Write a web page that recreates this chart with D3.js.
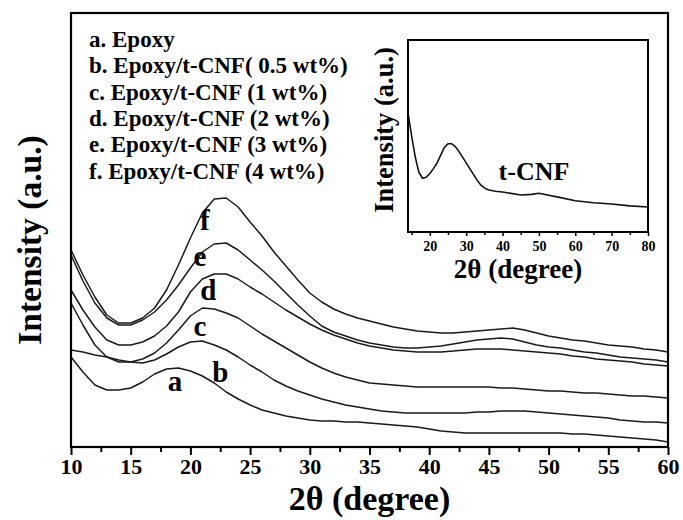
<!DOCTYPE html>
<html>
<head>
<meta charset="utf-8">
<script src="https://cdn.jsdelivr.net/npm/d3@7/dist/d3.min.js"></script>
<style>
  body { margin: 0; background: #fff; }
  text { font-family: "Liberation Serif", "Times New Roman", serif; font-weight: bold; fill: #000; }
</style>
</head>
<body>
<div id="chart"></div>
<script>

// 2theta grid of the main patterns (degree)
var angle = [10,11,12,13,14,15,16,17,18,19,20,21,22,23,24,25,26,27,28,29,30,
             31,32,33,34,35,36,37,38,39,40,41,42,43,44,45,46,47,48,49,50,
             51,52,53,54,55,56,57,58,59,60];

// intensities (a.u., curves already offset as in the figure)
var epoxy = [90,75,62,57,57,59,65,73,78,79,76,71,64,55,48,42,37,34,31,29,27,
             26,26,25,25,24,23,22,21,20,18,16,15,14,14,14,14,14,14,14,14,
             14,13,13,12,11,10,9,8,7,5];
var cnf05 = [97,95,92,90,87,85,84,87,93,100,105,106,102,97,90,82,75,67,61,56,52,
             48,45,42,40,38,36,35,34,34,34,34,34,34,35,35,36,36,36,35,34,
             33,32,31,30,29,27,26,25,25,24];
var cnf1  = [144,122,102,90,85,85,88,94,104,117,131,139,138,134,129,121,113,106,99,92,85,
             79,74,70,67,64,63,62,61,60,60,60,60,60,60,60,59,59,58,57,56,
             56,55,54,54,53,52,51,51,50,49];
var cnf2  = [157,137,120,107,102,102,105,111,121,135,155,168,173,173,168,160,153,145,137,130,123,
             117,112,108,104,101,99,97,96,95,95,95,96,97,98,98,98,97,96,95,94,
             93,91,90,88,87,86,85,83,82,81];
var cnf3  = [192,166,144,129,122,122,127,135,147,162,179,195,203,204,197,187,177,166,154,142,131,
             121,115,111,107,104,102,100,99,99,100,101,103,105,107,108,109,108,105,102,100,
             99,97,95,94,92,90,89,88,87,85];
var cnf4  = [197,172,150,132,124,124,129,139,157,182,209,234,248,249,240,225,211,195,181,167,154,
             145,138,133,129,126,123,120,118,116,115,114,114,115,116,117,118,119,117,114,111,
             109,107,106,104,102,101,100,98,97,95];

var legendText = ["a. Epoxy", "b. Epoxy/t-CNF( 0.5 wt%)", "c. Epoxy/t-CNF (1 wt%)",
                  "d. Epoxy/t-CNF (2 wt%)", "e. Epoxy/t-CNF (3 wt%)", "f. Epoxy/t-CNF (4 wt%)"];
var curveTag = ["a", "b", "c", "d", "e", "f"];
// where each letter sits (2theta, intensity)
var tagAngle = [18.7, 22.5, 20.8, 21.5, 20.8, 21.2];
var tagValue = [56, 65, 111, 147, 181, 217];

var xTicks = [10,15,20,25,30,35,40,45,50,55,60];
var xMinor = [12.5,17.5,22.5,27.5,32.5,37.5,42.5,47.5,52.5,57.5];

// inset : t-CNF alone
var cnfAngle = [14,15,16,17,18,19,20,21,22,23,24,25,26,27,28,29,30,31,32,33,34,35,36,
                38,40,45,48,50,52,55,60,65,70,75,80];
var cnfOnly  = [62,50,39,31,28,28.5,30.5,33,36,40,44,46,46,44.5,42,39,36,33,30,27,24.5,23,22,
                21.2,20.8,19.3,19.6,20.2,19.4,18.3,16.3,15.2,14.6,13.6,13];
var insetTicks = [20,30,40,50,60,70,80];
var insetMinor = [15,25,35,45,55,65,75];

var W = 683, H = 520;
var svg = d3.select("#chart").append("svg")
    .attr("width", W).attr("height", H);

// ---- main plot
var box = {left: 71, right: 668, top: 13, bottom: 447};

var x = d3.scaleLinear().domain([10, 60]).range([box.left, box.right]);
var y = d3.scaleLinear().domain([0, 434]).range([box.bottom, box.top]);

var line = d3.line()
    .x(function(d) { return x(d[0]); })
    .y(function(d) { return y(d[1]); });

var series = [epoxy, cnf05, cnf1, cnf2, cnf3, cnf4];

svg.append("g")
  .selectAll("path")
  .data(series)
  .enter().append("path")
    .attr("d", function(s) { return line(angle.map(function(a, i) { return [a, s[i]]; })); })
    .attr("fill", "none")
    .attr("stroke", "#1a1a1a")
    .attr("stroke-width", 1.5)
    .attr("stroke-linejoin", "round");

// letters next to the curves
svg.append("g")
  .selectAll("text")
  .data(curveTag)
  .enter().append("text")
    .attr("x", function(d, i) { return x(tagAngle[i]); })
    .attr("y", function(d, i) { return y(tagValue[i]); })
    .attr("text-anchor", "middle")
    .style("font-size", "29px")
    .text(function(d) { return d; });

// axes
var xAxis = svg.append("g")
    .attr("transform", "translate(0," + box.bottom + ")")
    .call(d3.axisBottom(x).tickValues(xTicks).tickSize(8).tickSizeOuter(0).tickPadding(3));
xAxis.select(".domain").remove();
xAxis.selectAll("line").attr("stroke-width", 2);
xAxis.selectAll("text").style("font-size", "22px").attr("font-family", null);

var xAxisMinor = svg.append("g")
    .attr("transform", "translate(0," + box.bottom + ")")
    .call(d3.axisBottom(x).tickValues(xMinor).tickSize(5).tickFormat(""));
xAxisMinor.select(".domain").remove();
xAxisMinor.selectAll("line").attr("stroke-width", 2);

svg.append("rect")
    .attr("x", box.left).attr("y", box.top)
    .attr("width", box.right - box.left).attr("height", box.bottom - box.top)
    .attr("fill", "none").attr("stroke", "#000").attr("stroke-width", 2.2);

svg.append("text")
    .attr("x", (box.left + box.right) / 2)
    .attr("y", 510)
    .attr("text-anchor", "middle")
    .style("font-size", "34px")
    .text("2θ (degree)");

svg.append("text")
    .attr("transform", "translate(41,240) rotate(-90)")
    .attr("text-anchor", "middle")
    .style("font-size", "33.5px")
    .text("Intensity (a.u.)");

// legend
svg.append("g")
  .selectAll("text")
  .data(legendText)
  .enter().append("text")
    .attr("x", 89)
    .attr("y", function(d, i) { return 47 + i * 26.3; })
    .style("font-size", "23px")
    .text(function(d) { return d; });

// ---- inset
var ibox = {left: 408, right: 648, top: 40, bottom: 232};

var ix = d3.scaleLinear().domain([14, 80]).range([ibox.left, ibox.right]);
var iy = d3.scaleLinear().domain([0, 100]).range([ibox.bottom, ibox.top]);

var iline = d3.line()
    .x(function(d) { return ix(d[0]); })
    .y(function(d) { return iy(d[1]); });

svg.append("path")
    .datum(cnfAngle.map(function(a, i) { return [a, cnfOnly[i]]; }))
    .attr("d", iline)
    .attr("fill", "none")
    .attr("stroke", "#111")
    .attr("stroke-width", 1.6);

var ixAxis = svg.append("g")
    .attr("transform", "translate(0," + ibox.bottom + ")")
    .call(d3.axisBottom(ix).tickValues(insetTicks).tickSize(4).tickPadding(5));
ixAxis.select(".domain").remove();
ixAxis.selectAll("line").attr("stroke-width", 1.5);
ixAxis.selectAll("text").style("font-size", "14px").attr("font-family", null);

var ixMinor = svg.append("g")
    .attr("transform", "translate(0," + ibox.bottom + ")")
    .call(d3.axisBottom(ix).tickValues(insetMinor).tickSize(3).tickFormat(""));
ixMinor.select(".domain").remove();
ixMinor.selectAll("line").attr("stroke-width", 1.5);

svg.append("rect")
    .attr("x", ibox.left).attr("y", ibox.top)
    .attr("width", ibox.right - ibox.left).attr("height", ibox.bottom - ibox.top)
    .attr("fill", "none").attr("stroke", "#000").attr("stroke-width", 2);

svg.append("text")
    .attr("x", 534).attr("y", 180)
    .attr("text-anchor", "middle")
    .style("font-size", "26px")
    .text("t-CNF");

svg.append("text")
    .attr("x", 518).attr("y", 278)
    .attr("text-anchor", "middle")
    .style("font-size", "27px")
    .text("2θ (degree)");

svg.append("text")
    .attr("transform", "translate(393,130) rotate(-90)")
    .attr("text-anchor", "middle")
    .style("font-size", "26.5px")
    .text("Intensity (a.u.)");

</script>
</body>
</html>
